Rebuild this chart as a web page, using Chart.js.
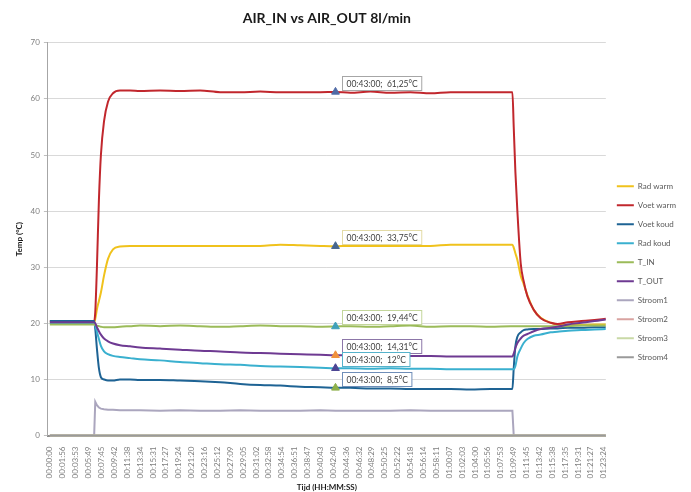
<!DOCTYPE html>
<html>
<head>
<meta charset="utf-8">
<script src="https://cdn.jsdelivr.net/npm/chart.js@4.4.1/dist/chart.umd.min.js"></script>
<style>
  html, body { margin: 0; padding: 0; background: #ffffff; }
  #wrap { width: 691px; height: 492px; position: relative; }
</style>
</head>
<body>
<div id="wrap"><canvas id="grafiek"></canvas></div>
<script>
// Tick labels of the time axis (HH:MM:SS)
const tijdLabels = [
  '00:00:00','00:01:56','00:03:53','00:05:49','00:07:45','00:09:42','00:11:38','00:13:34',
  '00:15:31','00:17:27','00:19:24','00:21:20','00:23:16','00:25:12','00:27:09','00:29:05',
  '00:31:02','00:32:58','00:34:54','00:36:51','00:38:47','00:40:43','00:42:40','00:44:36',
  '00:46:32','00:48:29','00:50:25','00:52:22','00:54:18','00:56:14','00:58:11','01:00:07',
  '01:02:03','01:04:00','01:05:56','01:07:53','01:09:49','01:11:45','01:13:42','01:15:38',
  '01:17:35','01:19:31','01:21:27','01:23:24'
];

// Sample moments in seconds since start of the measurement
const tijd = [
  0, 200, 400, 410, 425, 443, 461, 489, 525, 570, 633, 724, 814, 995, 1176, 1357,
  1538, 1719, 1900, 2081, 2262, 2443, 2580, 2714, 2895, 3076, 3257, 3438, 3619, 3800, 3981, 4163,
  4178, 4190, 4205, 4223, 4253, 4280, 4314, 4371, 4434, 4524, 4585, 4680, 4800, 4920, 5022
];

// Temperatures in °C
const radWarm = [
  20.2, 20.2, 20.2, 20.8, 22.5, 24.0, 25.5, 28.5, 31.5, 33.2, 33.7, 33.8, 33.8, 33.8, 33.8, 33.8,
  33.8, 33.8, 33.8, 34.0, 33.9, 33.8, 33.75, 33.8, 33.8, 33.8, 33.8, 33.8, 34.0, 34.0, 34.0, 34.0,
  34.0, 33.5, 32.5, 31.3, 28.5, 27.0, 25.0, 22.4, 21.0, 20.1, 19.8, 19.7, 19.7, 19.8, 19.8
];
const voetWarm = [
  20.4, 20.4, 20.4, 22.0, 30.0, 42.0, 50.0, 56.0, 59.5, 61.0, 61.5, 61.5, 61.4, 61.5, 61.4, 61.5,
  61.2, 61.2, 61.3, 61.2, 61.2, 61.2, 61.25, 61.1, 61.3, 61.1, 61.2, 61.0, 61.2, 61.2, 61.2, 61.2,
  61.2, 55.0, 47.0, 40.0, 30.7, 27.5, 24.8, 22.4, 20.9, 20.1, 19.9, 20.2, 20.4, 20.6, 20.8
];
const voetKoud = [
  20.4, 20.4, 20.4, 19.0, 15.5, 12.0, 10.4, 10.0, 9.8, 9.8, 10.0, 10.0, 9.9, 9.9, 9.8, 9.7,
  9.5, 9.2, 9.0, 8.9, 8.7, 8.6, 8.5, 8.5, 8.4, 8.4, 8.3, 8.3, 8.3, 8.2, 8.3, 8.3,
  8.3, 12.0, 15.9, 17.6, 18.4, 18.8, 18.9, 19.0, 19.0, 19.1, 19.1, 19.2, 19.2, 19.3, 19.3
];
const radKoud = [
  20.0, 20.0, 20.0, 19.6, 18.5, 17.2, 16.0, 15.0, 14.5, 14.2, 14.0, 13.8, 13.6, 13.4, 13.1, 12.9,
  12.7, 12.6, 12.4, 12.3, 12.2, 12.1, 12.0, 12.0, 11.9, 12.0, 11.9, 11.9, 11.8, 11.8, 11.8, 11.8,
  11.8, 11.8, 12.4, 14.1, 15.5, 16.5, 17.2, 17.8, 18.0, 18.4, 18.5, 18.7, 18.8, 18.9, 19.0
];
const tIn = [
  19.8, 19.8, 19.8, 19.7, 19.6, 19.5, 19.4, 19.3, 19.3, 19.3, 19.4, 19.5, 19.6, 19.5, 19.6, 19.5,
  19.4, 19.5, 19.6, 19.5, 19.5, 19.4, 19.44, 19.5, 19.4, 19.5, 19.6, 19.4, 19.5, 19.5, 19.4, 19.5,
  19.5, 19.5, 19.5, 19.5, 19.5, 19.5, 19.5, 19.5, 19.5, 19.5, 19.5, 19.5, 19.6, 19.6, 19.6
];
const tOut = [
  20.2, 20.2, 20.2, 20.0, 19.3, 18.6, 18.0, 17.3, 16.8, 16.4, 16.1, 15.9, 15.7, 15.5, 15.3, 15.1,
  15.0, 14.8, 14.7, 14.6, 14.5, 14.4, 14.31, 14.3, 14.2, 14.2, 14.2, 14.2, 14.1, 14.1, 14.1, 14.1,
  14.1, 14.6, 15.6, 16.5, 17.3, 17.8, 18.1, 18.6, 19.0, 19.2, 19.4, 19.8, 20.1, 20.4, 20.7
];
const stroom1 = [
  0, 0, 0, 6.0, 5.4, 5.0, 4.8, 4.7, 4.6, 4.6, 4.5, 4.5, 4.5, 4.4, 4.5, 4.4,
  4.4, 4.5, 4.4, 4.4, 4.4, 4.5, 4.4, 4.4, 4.4, 4.4, 4.5, 4.4, 4.4, 4.4, 4.4, 4.4,
  4.4, 0, 0, 0, 0, 0, 0, 0, 0, 0, 0, 0, 0, 0, 0
];
// Stroom2..4 stay at zero for the whole run
const stroomNulTijd = [0, 5022];
const stroom2 = [0, 0];
const stroom3 = [0, 0];
const stroom4 = [0, 0];

// Read-outs at 00:43:00
const meetTijd = '00:43:00';
const meetWaarden = [61.25, 33.75, 19.44, 14.31, 12, 8.5];
const meetKleuren = ['#4F6AA6', '#46678F', '#3FA0B9', '#F0913C', '#4C4594', '#8DB04A'];
const meetRanden = ['#A6A6A6', '#E3DBA6', '#C3D69B', '#8C76A8', '#55B2CB', '#6F8EB8'];

function seconden(label) {
  const [h, m, s] = label.split(':').map(Number);
  return h * 3600 + m * 60 + s;
}
const tickSeconden = tijdLabels.map(seconden);
const meetSec = seconden(meetTijd);

function reeks(tijden, waarden) {
  return tijden.map((t, i) => ({ x: t, y: waarden[i] }));
}

const FONT = 'Lato, "Open Sans", sans-serif';

function lijn(label, tijden, waarden, kleur, volgorde, extra) {
  return Object.assign({
    type: 'line',
    label,
    data: reeks(tijden, waarden),
    borderColor: kleur,
    backgroundColor: kleur,
    borderWidth: 2,
    pointRadius: 0,
    pointHoverRadius: 0,
    cubicInterpolationMode: 'monotone',
    order: volgorde
  }, extra || {});
}

const datasets = [
  lijn('Rad warm', tijd, radWarm, '#F0C21C', 10),
  lijn('Voet warm', tijd, voetWarm, '#C1272D', 9),
  lijn('Voet koud', tijd, voetKoud, '#1E6394', 8),
  lijn('Rad koud', tijd, radKoud, '#3AB0CF', 7),
  lijn('T_IN', tijd, tIn, '#9BBB59', 6),
  lijn('T_OUT', tijd, tOut, '#6E3A92', 5),
  lijn('Stroom1', tijd, stroom1, '#ABA6BE', 4, { clip: 4, cubicInterpolationMode: 'default', tension: 0 }),
  lijn('Stroom2', stroomNulTijd, stroom2, '#D9A3A1', 3, { clip: 4 }),
  lijn('Stroom3', stroomNulTijd, stroom3, '#C9D9A6', 2, { clip: 4 }),
  lijn('Stroom4', stroomNulTijd, stroom4, '#9A9A9A', 1, { clip: 4 }),
  {
    type: 'line',
    label: 'meting',
    data: meetWaarden.map(v => ({ x: meetSec, y: v })),
    showLine: false,
    pointStyle: 'triangle',
    pointRadius: 4.5,
    pointHoverRadius: 4.5,
    pointBackgroundColor: meetKleuren,
    pointBorderColor: meetKleuren,
    pointBorderWidth: 1,
    order: 0
  }
];

// Value boxes next to the read-out markers
const meetLabels = {
  id: 'meetLabels',
  afterDatasetsDraw(chart) {
    const { ctx, scales } = chart;
    ctx.save();
    ctx.font = '8.5px ' + FONT;
    ctx.textBaseline = 'middle';
    meetWaarden.forEach((v, i) => {
      const px = scales.x.getPixelForValue(meetSec);
      const py = scales.y.getPixelForValue(v);
      const tekst = meetTijd + ';  ' + String(v).replace('.', ',') + '°C';
      const w = ctx.measureText(tekst).width + 8;
      const h = 14;
      const bx = Math.round(px + 7) + 0.5;
      const by = Math.round(py - 2 - h) + 0.5;
      ctx.fillStyle = '#ffffff';
      ctx.fillRect(bx, by, w, h);
      ctx.strokeStyle = meetRanden[i];
      ctx.lineWidth = 1;
      ctx.strokeRect(bx, by, w, h);
      ctx.fillStyle = '#404040';
      ctx.fillText(tekst, bx + 4, by + h / 2 + 0.5);
    });
    ctx.restore();
  }
};

new Chart(document.getElementById('grafiek'), {
  data: { datasets },
  plugins: [meetLabels],
  options: {
    responsive: true,
    maintainAspectRatio: false,
    animation: false,
    events: [],
    layout: { padding: { left: 15, right: 5, top: 0, bottom: 0 } },
    scales: {
      x: {
        type: 'linear',
        min: -18,
        max: 5022,
        afterBuildTicks(axis) {
          axis.ticks = tickSeconden.map(v => ({ value: v }));
        },
        grid: { display: false },
        border: { color: '#8C8C8C', width: 2 },
        ticks: {
          autoSkip: false,
          minRotation: 90,
          maxRotation: 90,
          padding: 3,
          color: '#7F7F7F',
          font: { family: FONT, size: 8 },
          callback: (v, i) => tijdLabels[i]
        },
        title: {
          display: true,
          text: 'Tijd (HH:MM:SS)',
          color: '#1A1A1A',
          font: { family: FONT, size: 8, weight: 'bold' },
          padding: { top: 1, bottom: 0 }
        }
      },
      y: {
        min: 0,
        max: 70,
        ticks: {
          stepSize: 10,
          color: '#7F7F7F',
          padding: 4,
          font: { family: FONT, size: 8 }
        },
        grid: { color: '#D9D9D9', tickLength: 4, tickColor: '#BFBFBF' },
        border: { color: '#A6A6A6', width: 1 },
        title: {
          display: true,
          text: 'Temp (°C)',
          color: '#1A1A1A',
          font: { family: FONT, size: 8, weight: 'bold' },
          padding: { top: 0, bottom: 2 }
        }
      }
    },
    plugins: {
      title: {
        display: true,
        text: 'AIR_IN vs AIR_OUT 8l/min',
        fullSize: false,
        color: '#1A1A1A',
        font: { family: FONT, size: 14, weight: 'bold' },
        padding: { top: 10, bottom: 16 }
      },
      legend: {
        position: 'right',
        align: 'center',
        title: {
          display: true,
          text: ' ',
          font: { family: FONT, size: 8 },
          padding: { top: 0, bottom: 42 }
        },
        labels: {
          usePointStyle: true,
          pointStyle: 'line',
          pointStyleWidth: 17,
          padding: 11,
          color: '#595959',
          font: { family: FONT, size: 8 },
          filter: item => item.text !== 'meting',
          sort: (a, b) => a.datasetIndex - b.datasetIndex
        }
      },
      tooltip: { enabled: false }
    }
  }
});
</script>
</body>
</html>
